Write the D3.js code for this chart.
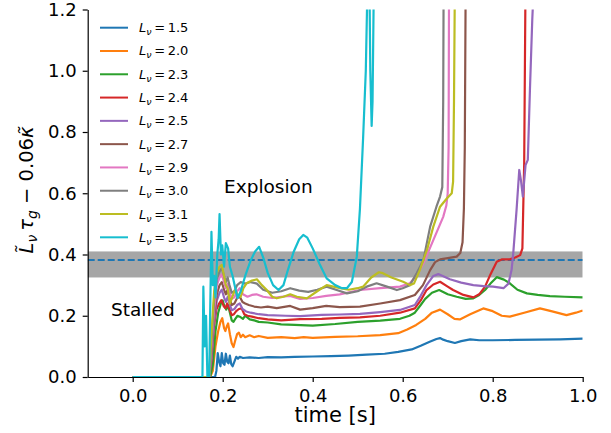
<!DOCTYPE html>
<html>
<head>
<meta charset="utf-8">
<script src="https://cdn.jsdelivr.net/npm/d3@7"></script>
<style>
  body { margin: 0; background: #fff; }
  svg text { font-family: "DejaVu Sans", sans-serif; fill: #000; }
</style>
</head>
<body>
<svg id="chart" width="611" height="433"></svg>
<script>
// values: [time s, value]
const L15 = [[0,0],[0.183,0],[0.186,0.02],[0.189,0.078],[0.192,0.05],[0.195,0.035],[0.198,0.078],[0.201,0.045],[0.204,0.04],[0.207,0.076],[0.21,0.05],[0.213,0.045],[0.216,0.07],[0.219,0.042],[0.222,0.035],[0.226,0.05],[0.23,0.066],[0.234,0.06],[0.238,0.066],[0.245,0.062],[0.26,0.064],[0.28,0.062],[0.3,0.065],[0.33,0.064],[0.36,0.066],[0.4,0.067],[0.44,0.068],[0.48,0.07],[0.52,0.073],[0.56,0.076],[0.59,0.082],[0.62,0.09],[0.64,0.102],[0.66,0.115],[0.675,0.124],[0.683,0.127],[0.69,0.122],[0.7,0.117],[0.716,0.111],[0.73,0.117],[0.75,0.123],[0.77,0.12],[0.8,0.12],[0.85,0.121],[0.9,0.122],[0.95,0.123],[1.0,0.125]];
const L20 = [[0,0],[0.172,0],[0.178,0.02],[0.184,0.1],[0.19,0.15],[0.195,0.18],[0.199,0.192],[0.203,0.16],[0.206,0.15],[0.209,0.165],[0.212,0.175],[0.216,0.14],[0.22,0.11],[0.224,0.098],[0.228,0.12],[0.232,0.14],[0.236,0.145],[0.24,0.13],[0.245,0.138],[0.25,0.13],[0.26,0.136],[0.27,0.13],[0.28,0.134],[0.3,0.128],[0.33,0.13],[0.36,0.127],[0.38,0.13],[0.4,0.128],[0.45,0.131],[0.5,0.133],[0.55,0.137],[0.59,0.143],[0.61,0.155],[0.63,0.17],[0.65,0.19],[0.665,0.21],[0.683,0.22],[0.7,0.205],[0.715,0.19],[0.727,0.188],[0.75,0.205],[0.779,0.224],[0.8,0.215],[0.82,0.2],[0.838,0.197],[0.87,0.21],[0.905,0.224],[0.93,0.215],[0.964,0.202],[0.985,0.21],[1.0,0.217]];
const L23 = [[0,0],[0.172,0],[0.178,0.04],[0.184,0.15],[0.19,0.21],[0.196,0.24],[0.2,0.25],[0.204,0.23],[0.208,0.22],[0.212,0.235],[0.216,0.21],[0.22,0.185],[0.224,0.18],[0.228,0.19],[0.233,0.2],[0.238,0.197],[0.245,0.19],[0.25,0.2],[0.26,0.188],[0.27,0.185],[0.28,0.18],[0.3,0.178],[0.33,0.172],[0.36,0.17],[0.4,0.168],[0.45,0.173],[0.5,0.18],[0.55,0.184],[0.594,0.19],[0.615,0.2],[0.627,0.21],[0.64,0.235],[0.65,0.255],[0.665,0.275],[0.681,0.284],[0.7,0.27],[0.72,0.262],[0.74,0.255],[0.757,0.257],[0.77,0.268],[0.783,0.284],[0.795,0.305],[0.809,0.326],[0.825,0.318],[0.838,0.306],[0.855,0.285],[0.876,0.273],[0.9,0.268],[0.927,0.264],[0.96,0.262],[1.0,0.26]];
const L24 = [[0,0],[0.17,0],[0.175,0.05],[0.18,0.16],[0.186,0.22],[0.192,0.24],[0.197,0.251],[0.202,0.232],[0.206,0.225],[0.21,0.24],[0.214,0.225],[0.22,0.202],[0.225,0.205],[0.23,0.215],[0.236,0.222],[0.242,0.224],[0.248,0.205],[0.255,0.2],[0.265,0.197],[0.28,0.192],[0.3,0.188],[0.33,0.185],[0.372,0.189],[0.42,0.19],[0.46,0.193],[0.505,0.195],[0.55,0.2],[0.594,0.21],[0.627,0.224],[0.64,0.25],[0.653,0.284],[0.668,0.302],[0.683,0.311],[0.7,0.295],[0.712,0.284],[0.735,0.268],[0.757,0.26],[0.77,0.27],[0.783,0.295],[0.795,0.335],[0.809,0.376],[0.82,0.384],[0.838,0.384],[0.85,0.39],[0.861,0.398],[0.866,0.42],[0.87,0.7],[0.873,1.3]];
const L25 = [[0,0],[0.17,0],[0.175,0.06],[0.181,0.18],[0.187,0.25],[0.193,0.275],[0.198,0.285],[0.203,0.26],[0.207,0.245],[0.211,0.262],[0.215,0.24],[0.22,0.218],[0.226,0.222],[0.232,0.235],[0.238,0.24],[0.244,0.222],[0.252,0.214],[0.262,0.21],[0.28,0.205],[0.3,0.202],[0.34,0.2],[0.372,0.199],[0.42,0.203],[0.46,0.204],[0.505,0.206],[0.55,0.212],[0.594,0.219],[0.627,0.235],[0.64,0.265],[0.653,0.3],[0.668,0.33],[0.679,0.336],[0.705,0.319],[0.73,0.308],[0.757,0.3],[0.78,0.297],[0.801,0.295],[0.824,0.29],[0.835,0.305],[0.842,0.35],[0.846,0.41],[0.853,0.545],[0.859,0.676],[0.863,0.64],[0.867,0.589],[0.873,0.692],[0.878,0.709],[0.883,0.95],[0.888,1.17],[0.892,1.3]];
const L27 = [[0,0],[0.17,0],[0.175,0.08],[0.181,0.2],[0.187,0.27],[0.193,0.3],[0.198,0.31],[0.203,0.285],[0.207,0.27],[0.211,0.285],[0.215,0.26],[0.22,0.235],[0.226,0.24],[0.232,0.258],[0.238,0.262],[0.244,0.245],[0.25,0.24],[0.258,0.235],[0.27,0.23],[0.285,0.227],[0.3,0.23],[0.32,0.225],[0.35,0.232],[0.372,0.22],[0.4,0.225],[0.43,0.232],[0.46,0.228],[0.505,0.23],[0.55,0.24],[0.594,0.251],[0.627,0.268],[0.645,0.3],[0.661,0.349],[0.672,0.375],[0.683,0.384],[0.7,0.388],[0.72,0.393],[0.728,0.405],[0.733,0.44],[0.736,0.55],[0.738,0.75],[0.74,1.3]];
const L29 = [[0,0],[0.17,0],[0.175,0.1],[0.181,0.22],[0.187,0.3],[0.193,0.325],[0.198,0.335],[0.203,0.31],[0.207,0.29],[0.211,0.305],[0.215,0.28],[0.22,0.255],[0.226,0.26],[0.232,0.28],[0.238,0.29],[0.245,0.27],[0.255,0.262],[0.265,0.268],[0.275,0.27],[0.29,0.262],[0.31,0.258],[0.33,0.262],[0.35,0.265],[0.372,0.255],[0.4,0.258],[0.43,0.265],[0.46,0.27],[0.505,0.284],[0.55,0.29],[0.594,0.295],[0.616,0.306],[0.63,0.33],[0.646,0.371],[0.668,0.447],[0.69,0.523],[0.697,0.56],[0.7,0.6],[0.702,0.75],[0.703,1.3]];
const L30 = [[0,0],[0.17,0],[0.175,0.12],[0.181,0.25],[0.187,0.32],[0.193,0.345],[0.198,0.355],[0.203,0.33],[0.207,0.31],[0.211,0.325],[0.215,0.3],[0.22,0.275],[0.226,0.28],[0.232,0.3],[0.24,0.31],[0.25,0.305],[0.262,0.31],[0.276,0.305],[0.29,0.285],[0.31,0.275],[0.33,0.28],[0.35,0.29],[0.37,0.282],[0.39,0.278],[0.41,0.285],[0.431,0.295],[0.455,0.283],[0.476,0.273],[0.5,0.28],[0.52,0.295],[0.542,0.306],[0.565,0.295],[0.587,0.284],[0.6,0.29],[0.616,0.3],[0.631,0.339],[0.646,0.382],[0.661,0.491],[0.675,0.556],[0.683,0.589],[0.688,0.62],[0.69,0.9],[0.691,1.3]];
const L31 = [[0,0],[0.17,0],[0.175,0.14],[0.181,0.28],[0.187,0.34],[0.193,0.36],[0.198,0.366],[0.203,0.33],[0.207,0.3],[0.211,0.29],[0.216,0.24],[0.221,0.26],[0.227,0.284],[0.233,0.27],[0.24,0.262],[0.246,0.29],[0.253,0.306],[0.265,0.315],[0.276,0.319],[0.287,0.3],[0.298,0.284],[0.31,0.262],[0.32,0.257],[0.335,0.262],[0.35,0.27],[0.365,0.262],[0.387,0.257],[0.41,0.28],[0.431,0.3],[0.446,0.295],[0.461,0.29],[0.48,0.285],[0.5,0.29],[0.512,0.295],[0.53,0.325],[0.547,0.342],[0.556,0.339],[0.575,0.325],[0.601,0.311],[0.616,0.3],[0.625,0.305],[0.638,0.349],[0.655,0.42],[0.668,0.491],[0.683,0.556],[0.698,0.583],[0.709,0.6],[0.712,0.638],[0.714,0.9],[0.716,1.3]];
const L35 = [[0,0],[0.155,0],[0.157,0.295],[0.16,0.1],[0.163,0.2],[0.166,0],[0.17,0],[0.172,0.2],[0.175,0.474],[0.178,0.3],[0.181,0.33],[0.184,0.26],[0.188,0.4],[0.191,0.45],[0.193,0.532],[0.196,0.4],[0.199,0.43],[0.203,0.36],[0.207,0.437],[0.212,0.42],[0.216,0.36],[0.222,0.33],[0.228,0.29],[0.233,0.258],[0.24,0.28],[0.25,0.33],[0.262,0.38],[0.272,0.41],[0.281,0.425],[0.29,0.39],[0.3,0.34],[0.312,0.3],[0.324,0.284],[0.335,0.3],[0.345,0.35],[0.358,0.41],[0.37,0.45],[0.379,0.464],[0.388,0.455],[0.4,0.42],[0.415,0.37],[0.431,0.322],[0.45,0.3],[0.465,0.29],[0.476,0.29],[0.487,0.31],[0.498,0.393],[0.505,0.55],[0.512,0.78],[0.518,1.0],[0.522,1.3],[0.526,1.3],[0.528,1.0],[0.531,0.82],[0.533,0.9],[0.536,1.3]];

const series = [L15, L20, L23, L24, L25, L27, L29, L30, L31, L35];
const lumValues = ["1.5", "2.0", "2.3", "2.4", "2.5", "2.7", "2.9", "3.0", "3.1", "3.5"];
const colors = ['#1f77b4','#ff7f0e','#2ca02c','#d62728','#9467bd','#8c564b','#e377c2','#7f7f7f','#bcbd22','#17becf'];
const xTicks = [0, 0.2, 0.4, 0.6, 0.8, 1.0];
const yTicks = [0, 0.2, 0.4, 0.6, 0.8, 1.0, 1.2];
const band = [0.325, 0.41];
const threshold = 0.382;

const mLeft = 87.7, mRight = 582.7, mTop = 9.5, mBottom = 377;

const svg = d3.select("#chart");
svg.append("rect").attr("width", 611).attr("height", 433).attr("fill", "#fff");

const x = d3.scaleLinear().domain([-0.1, 1.0]).range([mLeft, mRight]);
const y = d3.scaleLinear().domain([0, 1.2]).range([mBottom, mTop]);

svg.append("clipPath").attr("id", "clip")
    .append("rect")
    .attr("x", mLeft).attr("y", mTop)
    .attr("width", mRight - mLeft).attr("height", mBottom - mTop);

const plot = svg.append("g").attr("clip-path", "url(#clip)");

// grey band + dashed threshold
plot.append("rect")
    .attr("x", mLeft).attr("width", mRight - mLeft)
    .attr("y", y(band[1])).attr("height", y(band[0]) - y(band[1]))
    .attr("fill", "#a6a6a6");
plot.append("line")
    .attr("x1", mLeft).attr("x2", mRight)
    .attr("y1", y(threshold)).attr("y2", y(threshold))
    .attr("stroke", "#1f77b4").attr("stroke-width", 2)
    .attr("stroke-dasharray", "7,3");

const line = d3.line().x(d => x(d[0])).y(d => y(d[1]));

plot.selectAll("path.curve")
    .data(series)
    .enter().append("path")
      .attr("class", "curve")
      .attr("d", line)
      .attr("fill", "none")
      .attr("stroke", (d, i) => colors[i])
      .attr("stroke-width", 2.2)
      .attr("stroke-linejoin", "round");

// axes
const xAxis = svg.append("g")
    .attr("transform", `translate(0,${mBottom})`)
    .call(d3.axisBottom(x).tickValues(xTicks).tickFormat(d3.format(".1f"))
          .tickSize(5).tickSizeOuter(0).tickPadding(7));
const yAxis = svg.append("g")
    .attr("transform", `translate(${mLeft},0)`)
    .call(d3.axisLeft(y).tickValues(yTicks).tickFormat(d3.format(".1f"))
          .tickSize(5).tickSizeOuter(0).tickPadding(6));
[xAxis, yAxis].forEach(a => {
  a.selectAll("path.domain").attr("stroke", "#000").attr("stroke-width", 1.2);
  a.selectAll(".tick line").attr("stroke", "#000").attr("stroke-width", 1.2);
  a.selectAll(".tick text").attr("font-size", 18).attr("font-family", "DejaVu Sans").attr("fill", "#000");
});

svg.append("text")
    .attr("x", (mLeft + mRight) / 2).attr("y", 422)
    .attr("text-anchor", "middle").attr("font-size", 21)
    .text("time [s]");

const yl = svg.append("text")
    .attr("transform", `translate(33,190) rotate(-90)`)
    .attr("text-anchor", "middle").attr("font-size", 19.5);
yl.append("tspan").attr("font-style", "italic").text("L\u0303");
yl.append("tspan").attr("font-style", "italic").attr("font-size", 14).attr("dy", 4).text("\u03bd");
yl.append("tspan").attr("font-style", "italic").attr("dy", -4).text("\u2009\u03c4");
yl.append("tspan").attr("font-style", "italic").attr("font-size", 14).attr("dy", 4).text("g");
yl.append("tspan").attr("dy", -4).text(" \u2212 0.06");
yl.append("tspan").attr("font-style", "italic").text("\u03ba\u0303");

svg.append("text").attr("x", 224).attr("y", 193).attr("font-size", 18.5).text("Explosion");
svg.append("text").attr("x", 111).attr("y", 316).attr("font-size", 18.5).text("Stalled");

// legend
const legend = svg.append("g");
const rows = legend.selectAll("g.row")
    .data(lumValues)
    .enter().append("g")
      .attr("class", "row")
      .attr("transform", (d, i) => `translate(0,${27.7 + i * 23.29})`);
rows.append("line")
    .attr("x1", 100).attr("x2", 128)
    .attr("stroke", (d, i) => colors[i]).attr("stroke-width", 2);
rows.each(function(d) {
  const t = d3.select(this).append("text")
      .attr("x", 139).attr("y", 4.5).attr("font-size", 13);
  t.append("tspan").attr("font-style", "italic").text("L");
  t.append("tspan").attr("font-style", "italic").attr("font-size", 9.5).attr("dy", 3).text("\u03bd");
  t.append("tspan").attr("dy", -3).text("\u2009=\u2009" + d);
});
</script>
</body>
</html>
